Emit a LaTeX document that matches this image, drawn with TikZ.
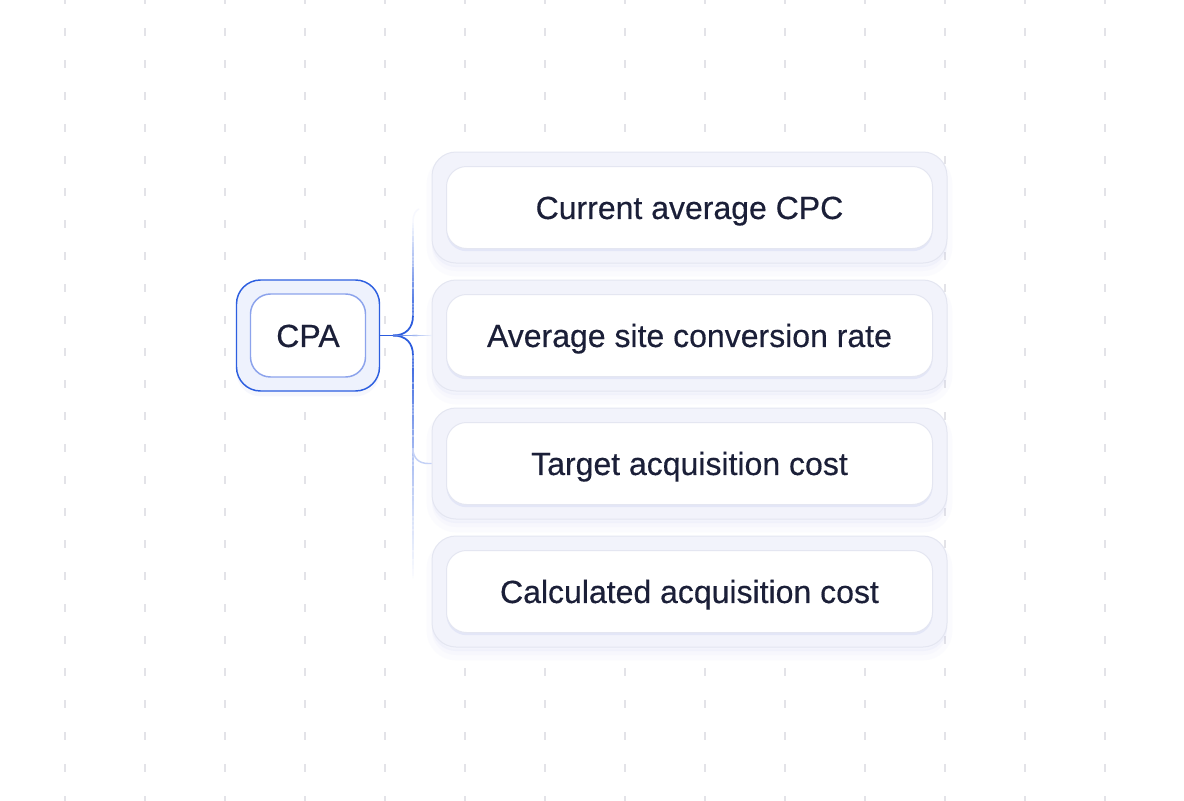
\documentclass[tikz,border=0pt]{standalone}
\usepackage{fontspec}
\setmainfont{Liberation Sans}
\newfontfamily\lblfont[FakeBold=0.4]{Liberation Sans}
\usetikzlibrary{positioning,calc}
\definecolor{ink}{HTML}{1B1F38}
\definecolor{wireblue}{HTML}{2C5CDE}
\definecolor{cpaedge}{HTML}{2D5FE0}
\definecolor{cpainner}{HTML}{8CA3EC}
\definecolor{cpafill}{HTML}{EEF2FD}
\definecolor{boxfill}{HTML}{F2F3FB}
\definecolor{boxedge}{HTML}{E4E6F1}
\definecolor{glowc}{HTML}{C9D0F2}
\definecolor{tickc}{HTML}{E3E3E8}
\tikzset{
    ring/.style={rounded corners=18pt, line width=.75pt, minimum width=386.25pt, minimum height=83.25pt,
        draw=boxedge, fill=boxfill,
        preaction={fill=glowc, opacity=.07, draw=glowc, draw opacity=.07, line width=8pt, transform canvas={yshift=-6pt}},
        preaction={fill=glowc, opacity=.15, transform canvas={yshift=-3pt}}},
    card/.style={rounded corners=15pt, line width=.75pt, minimum width=364.5pt, minimum height=61.5pt,
        draw=boxedge, fill=white, text=ink, font=\lblfont\fontsize{24}{28}\selectfont, text height=17.2pt, text depth=0pt,
        preaction={fill=glowc, opacity=.35, transform canvas={yshift=-2pt}}},
    cparing/.style={rounded corners=18pt, line width=1.1pt, minimum width=107.25pt, minimum height=83.25pt,
        draw=cpaedge, fill=cpafill,
        preaction={fill=glowc, opacity=.15, transform canvas={yshift=-4pt}}},
    cpacard/.style={rounded corners=15pt, line width=1.1pt, minimum width=86.25pt, minimum height=62.25pt,
        draw=cpainner, fill=white, text=ink, font=\lblfont\fontsize{24}{28}\selectfont, text height=17.2pt, text depth=0pt},
    wire/.style={line width=1.3pt, draw=wireblue},
    tick/.style={draw=tickc, line width=1pt}
}
% faded connector piece: from, to, start %, end %
\newcommand{\fadewire}[4]{
    \foreach \k in {0,...,29}{
        \pgfmathsetmacro{\pc}{#3+(#4-#3)*\k/29}
        \draw[wire, line width=1.1pt, draw=wireblue!\pc!white] ($(#1)!{\k/30}!(#2)$) -- ($(#1)!{min((\k+1.6)/30,1)}!(#2)$);
    }
}

\begin{document}
\begin{tikzpicture}[x=.75pt, y=-.75pt]
    \useasboundingbox (0,0) rectangle (1184,800);
    \fill[white] (0,0) rectangle (1184,800);
    % dotted grid in the back
    \foreach \gx in {65,145,...,1105}
        \foreach \gy in {0,32,...,800}
            \draw[tick] (\gx,\gy-4) -- (\gx,\gy+4);

    % root
    \node[cparing] (cpaouter) at (308,335.5) {};
    \node[cpacard] (cpa) at (308,335.5) {CPA};

    % factors
    \node[ring] (r1) at (689.5,207.5) {};
    \node[card] (f1) at (r1) {Current average CPC};
    \node[ring] (r2) at (689.5,335.5) {};
    \node[card] (f2) at (r2) {Average site conversion rate};
    \node[ring] (r3) at (689.5,463.5) {};
    \node[card] (f3) at (r3) {Target acquisition cost};
    \node[ring] (r4) at (689.5,591.5) {};
    \node[card] (f4) at (r4) {Calculated acquisition cost};

    % connectors
    \coordinate (j) at (393,335.5);
    \coordinate (up) at (413,315.5);
    \coordinate (dn) at (413,355.5);
    \coordinate (top) at (413,222);
    \coordinate (mid3) at (413,449);
    \coordinate (bot) at (413,578);
    \coordinate (e3) at (428,463.5);
    \draw[wire] (cpaouter.east) -- (j);
    \draw[wire] (j) .. controls (406,335.5) and (413,328) .. (up);
    \draw[wire] (j) .. controls (406,335.5) and (413,343) .. (dn);
    \fadewire{up}{top}{92}{4}
    \fadewire{dn}{mid3}{95}{45}
    \fadewire{mid3}{bot}{42}{2}
    \fadewire{j}{r2.west}{85}{10}
    \draw[wire, line width=1.1pt, draw=wireblue!28!white] (mid3) .. controls (413,458) and (419,463.5) .. (e3) -- (r3.west);
    \draw[wire, line width=1.1pt, draw=wireblue!4!white] (top) .. controls (413,214) and (416,210) .. (419,209);
\end{tikzpicture}
\end{document}
